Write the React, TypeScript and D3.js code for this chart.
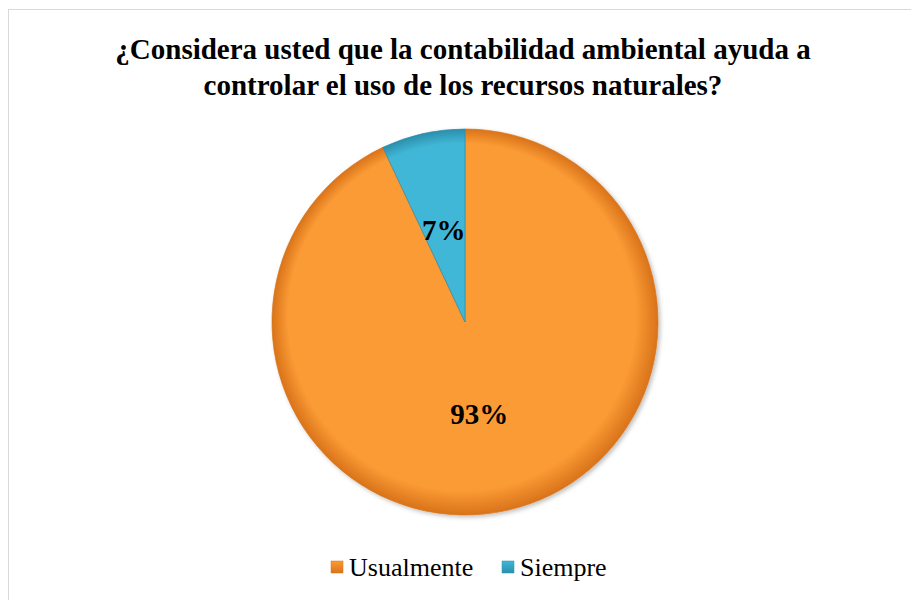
import React from 'react';
import * as d3 from 'd3';

const W = 911;
const H = 600;

const categories = ['Usualmente', 'Siempre'];
const values = [93, 7];
const labels = ['93%', '7%'];
const colors = ['#fb9b35', '#41b7d6'];
const darkColors = ['#d9731a', '#2b8fad'];
const titleLines = [
  '¿Considera usted que la contabilidad ambiental ayuda a',
  'controlar el uso de los recursos naturales?',
];

const cx = 465;
const cy = 322;
const radius = 193;

export default function App() {
  const pie = d3
    .pie<number>()
    .sort(null)
    .startAngle(0)
    .endAngle(Math.PI * 2);
  const arcs = pie(values);
  const arc = d3.arc<d3.PieArcDatum<number>>().innerRadius(0).outerRadius(radius);
  const labelArc = d3
    .arc<d3.PieArcDatum<number>>()
    .innerRadius(radius * 0.48)
    .outerRadius(radius * 0.48);

  const legendX = d3.scalePoint<string>().domain(categories).range([331, 502]);

  return (
    <svg
      width={W}
      height={H}
      style={{ position: 'absolute', left: 0, top: 0, background: '#fff' }}
      fontFamily="'Liberation Serif', 'Times New Roman', serif"
    >
      <defs>
        {categories.map((c, i) => (
          <radialGradient
            key={c}
            id={`grad${i}`}
            gradientUnits="userSpaceOnUse"
            cx={0}
            cy={0}
            r={radius}
            fx={-30}
            fy={-50}
          >
            <stop offset="0%" stopColor={colors[i]} />
            <stop offset="90%" stopColor={colors[i]} />
            <stop offset="100%" stopColor={darkColors[i]} />
          </radialGradient>
        ))}
        {categories.map((c, i) => (
          <linearGradient key={c} id={`lg${i}`} x1="0" y1="0" x2="0" y2="1">
            <stop offset="0%" stopColor={colors[i]} />
            <stop offset="100%" stopColor={darkColors[i]} />
          </linearGradient>
        ))}
        <filter id="shadow" x="-10%" y="-10%" width="120%" height="120%">
          <feDropShadow dx="2" dy="2" stdDeviation="2" floodColor="#000" floodOpacity="0.25" />
        </filter>
      </defs>
      <rect x={8.5} y={9.5} width={W} height={H} fill="none" stroke="#d9d9d9" strokeWidth={1} />

      {titleLines.map((t, i) => (
        <text
          key={i}
          x={463}
          y={59 + i * 36}
          textAnchor="middle"
          fontSize={29}
          fontWeight="bold"
          fill="#000"
        >
          {t}
        </text>
      ))}

      <g transform={`translate(${cx},${cy})`}>
        <g filter="url(#shadow)">
          {arcs.map((a, i) => (
            <path
              key={categories[i]}
              d={arc(a) || ''}
              fill={`url(#grad${i})`}
              stroke={darkColors[i]}
              strokeOpacity={0.7}
              strokeWidth={1}
            />
          ))}
        </g>
        {arcs.map((a, i) => {
          const [lx, ly] = labelArc.centroid(a);
          return (
            <text
              key={categories[i]}
              x={i === 0 ? lx - 6 : lx - 1}
              y={i === 0 ? 95 : ly + 2}
              textAnchor="middle"
              dominantBaseline="middle"
              fontSize={29}
              fontWeight="bold"
              fill="#000"
            >
              {labels[i]}
            </text>
          );
        })}
      </g>

      {categories.map((c, i) => (
        <g key={c} transform={`translate(${legendX(c)},${567})`}>
          <rect x={0} y={-6} width={12} height={12} fill={`url(#lg${i})`} stroke={darkColors[i]} strokeWidth={0.5} />
          <text x={18} y={9} fontSize={26} fill="#000">
            {c}
          </text>
        </g>
      ))}
    </svg>
  );
}
